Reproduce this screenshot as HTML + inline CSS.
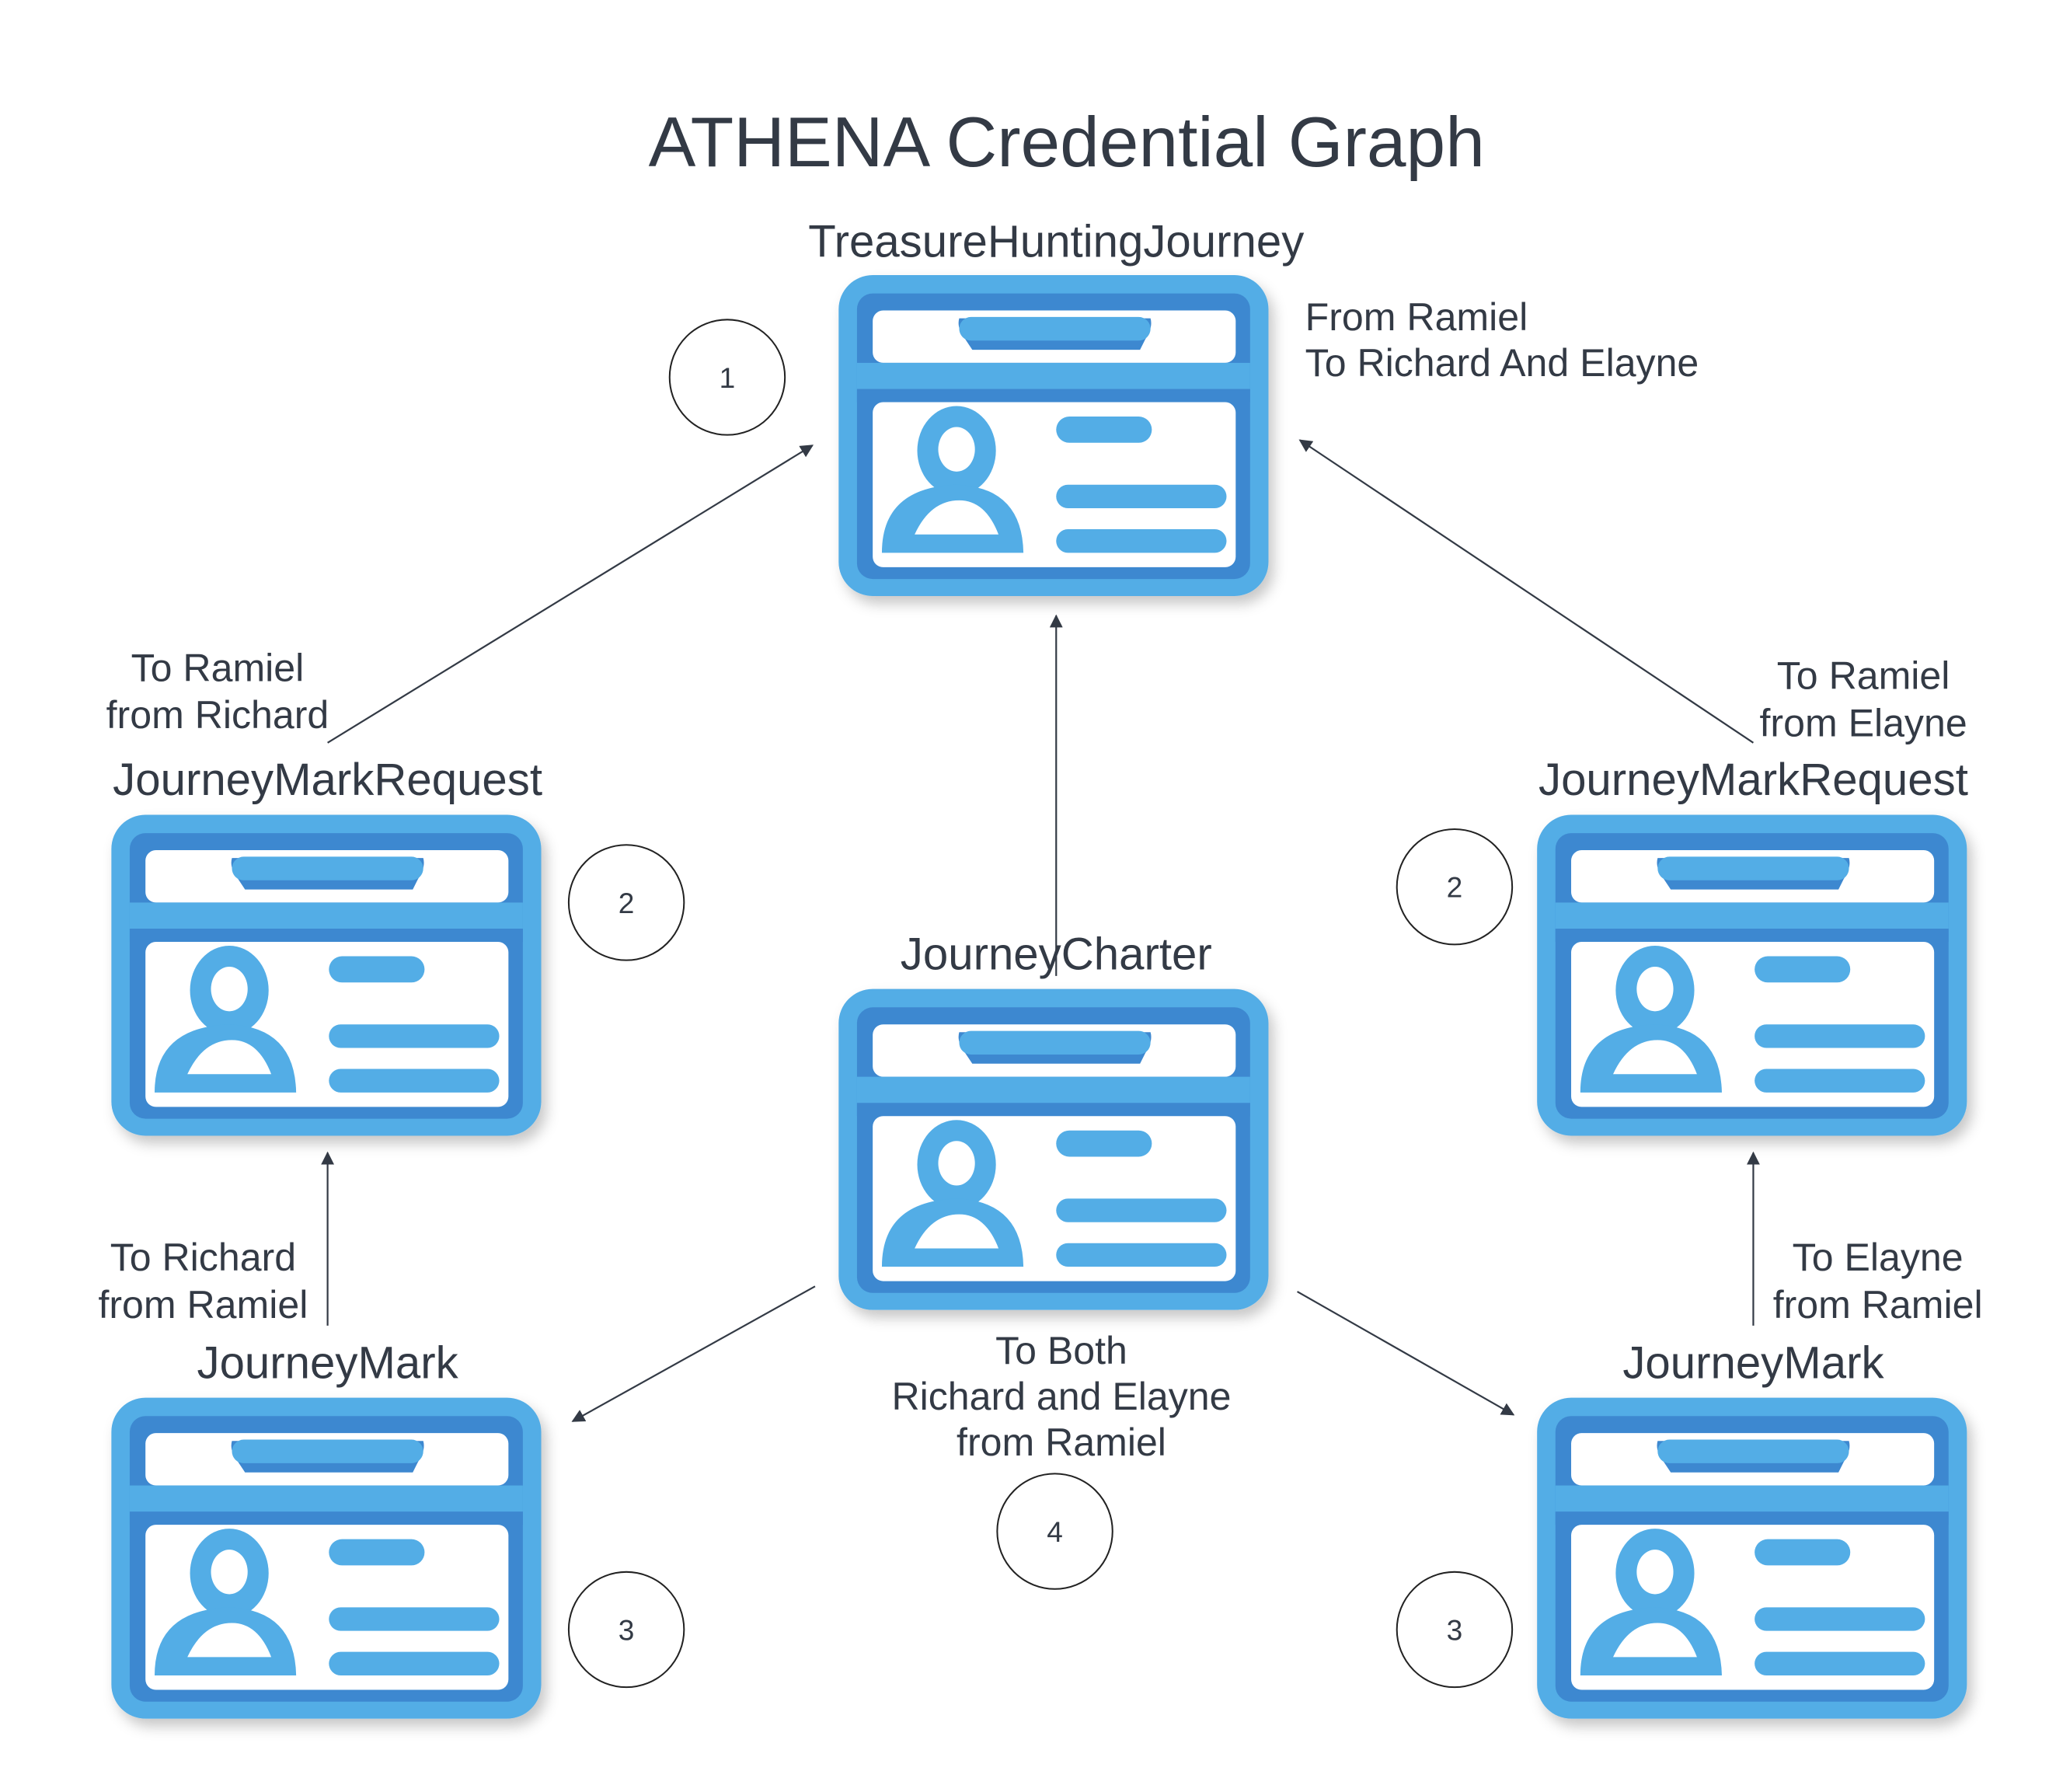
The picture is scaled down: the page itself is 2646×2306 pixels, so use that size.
<!DOCTYPE html>
<html><head><meta charset="utf-8"><style>
html,body{margin:0;padding:0;background:#fff;}
svg{display:block;}
text{font-family:"Liberation Sans",Arial,sans-serif;fill:#333a45;}
</style></head><body>
<svg width="2646" height="2306" viewBox="0 0 1569 1368" preserveAspectRatio="none" xmlns="http://www.w3.org/2000/svg">
<defs>
<filter id="sh" x="-10%" y="-10%" width="125%" height="130%">
<feDropShadow dx="4" dy="6" stdDeviation="5" flood-color="#000" flood-opacity="0.22"/>
</filter>
<marker id="ah" markerWidth="10" markerHeight="10" refX="9" refY="5" orient="auto" markerUnits="userSpaceOnUse">
<path d="M0,0 L10,5 L0,10 z" fill="#333a45"/>
</marker>
<g id="card">
<g filter="url(#sh)">
<rect x="0" y="0" width="328" height="245" rx="26" fill="#52ade6"/>
<rect x="14" y="14" width="300" height="218" rx="12" fill="#3e88d0"/>
<rect x="26" y="27" width="277" height="40" rx="8" fill="#fff"/>
<rect x="14" y="67" width="300" height="20" fill="#52ade6"/>
<rect x="14" y="87" width="300" height="10" fill="#3e88d0"/>
<rect x="26" y="97" width="277" height="126" rx="8" fill="#fff"/>
<path d="M92,33 L238,33 Q240,40 234,49 L230,57 L102,57 L96,48 Q90,40 92,33 z" fill="#3e88d0"/>
<rect x="92" y="32" width="146" height="18" rx="9" fill="#52ade6"/>
<ellipse cx="90" cy="134" rx="30" ry="34" fill="#52ade6"/>
<ellipse cx="90" cy="133" rx="14" ry="17" fill="#fff"/>
<path d="M33,212 Q33,162 90,160 Q140,162 141,212 z" fill="#52ade6"/>
<path d="M58,198 Q70,172 92,172 Q112,172 122,198 z" fill="#fff"/>
<rect x="166" y="108" width="73" height="20" rx="10" fill="#52ade6"/>
<rect x="166" y="160" width="130" height="18" rx="9" fill="#52ade6"/>
<rect x="166" y="194" width="130" height="18" rx="9" fill="#52ade6"/>
</g>
</g>
</defs>
<rect width="1569" height="1368" fill="#fff"/>

<text x="814" y="127" font-size="54" text-anchor="middle">ATHENA Credential Graph</text>

<use href="#card" x="640" y="210"/>
<use href="#card" x="85" y="622"/>
<use href="#card" x="1173" y="622"/>
<use href="#card" x="640" y="755"/>
<use href="#card" x="85" y="1067"/>
<use href="#card" x="1173" y="1067"/>

<g stroke="#333a45" stroke-width="1.3" fill="none" marker-end="url(#ah)">
<line x1="250" y1="567" x2="620" y2="340"/>
<line x1="806" y1="745" x2="806" y2="470"/>
<line x1="1338" y1="567" x2="992" y2="336"/>
<line x1="250" y1="1012" x2="250" y2="880"/>
<line x1="1338" y1="1012" x2="1338" y2="880"/>
<line x1="622" y1="982" x2="437" y2="1085"/>
<line x1="990" y1="986" x2="1155" y2="1080"/>
</g>

<g stroke="#222" stroke-width="1.2" fill="#fff">
<circle cx="555" cy="288" r="44"/>
<circle cx="478" cy="689" r="44"/>
<circle cx="1110" cy="677" r="44"/>
<circle cx="805" cy="1169" r="44"/>
<circle cx="478" cy="1244" r="44"/>
<circle cx="1110" cy="1244" r="44"/>
</g>
<g font-size="22" text-anchor="middle">
<text x="555" y="296">1</text>
<text x="478" y="697">2</text>
<text x="1110" y="685">2</text>
<text x="805" y="1177">4</text>
<text x="478" y="1252">3</text>
<text x="1110" y="1252">3</text>
</g>

<g font-size="34.5" text-anchor="middle">
<text x="806" y="196">TreasureHuntingJourney</text>
<text x="250" y="607">JourneyMarkRequest</text>
<text x="1338" y="607">JourneyMarkRequest</text>
<text x="806" y="740">JourneyCharter</text>
<text x="250" y="1052">JourneyMark</text>
<text x="1338" y="1052">JourneyMark</text>
</g>

<g font-size="29.7">
<text x="996" y="252">From Ramiel</text>
<text x="996" y="287">To Richard And Elayne</text>
</g>
<g font-size="29.7" text-anchor="middle">
<text x="166" y="520">To Ramiel</text>
<text x="166" y="556">from Richard</text>
<text x="1422" y="526">To Ramiel</text>
<text x="1422" y="562">from Elayne</text>
<text x="155" y="970">To Richard</text>
<text x="155" y="1006">from Ramiel</text>
<text x="1433" y="970">To Elayne</text>
<text x="1433" y="1006">from Ramiel</text>
<text x="810" y="1041">To Both</text>
<text x="810" y="1076">Richard and Elayne</text>
<text x="810" y="1111">from Ramiel</text>
</g>
</svg>
</body></html>
